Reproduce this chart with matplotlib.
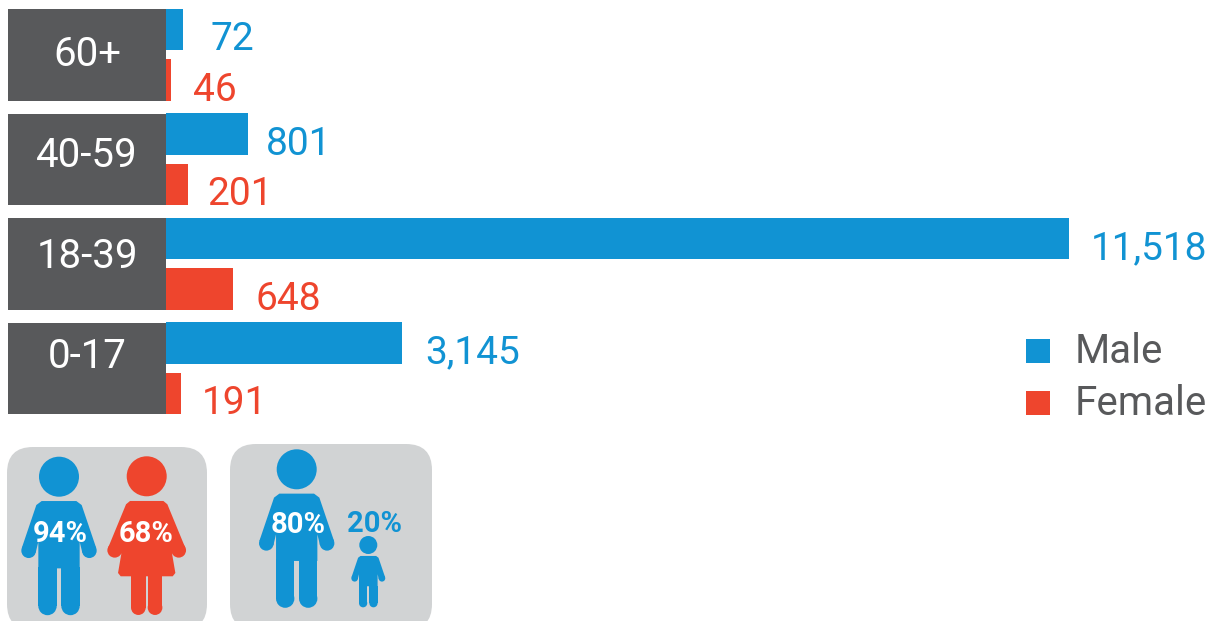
import matplotlib
matplotlib.use("Agg")
import matplotlib.pyplot as plt
from matplotlib.patches import Circle, FancyBboxPatch, Polygon, Rectangle

age_groups = ["60+", "40-59", "18-39", "0-17"]
male_values = [72, 801, 11518, 3145]
female_values = [46, 201, 648, 191]
# the bars in the original are not to scale with their labels, these are the drawn lengths
male_lengths = [17, 81.5, 903, 236]
female_lengths = [5, 22, 67, 15]
legend_labels = ["Male", "Female"]
percent_labels = ["94%", "68%", "80%", "20%"]

BLUE = "#1193d3"
RED = "#ee452d"
DARK = "#58595b"
PANEL = "#d1d3d4"
FONT = ["Roboto", "DejaVu Sans"]

plt.rcParams["font.family"] = FONT

fig = plt.figure(figsize=(12.12, 6.21), dpi=100)

# bars, one row is 104.5 px high
ax = fig.add_axes([0, 1 - 420.75 / 621, 1, 418 / 621])
rows = range(len(age_groups))
ax.barh(rows, [-158] * 4, height=0.88, color=DARK)
ax.barh([r - 0.244 for r in rows], male_lengths, height=0.395, color=BLUE)
ax.barh([r + 0.239 for r in rows], female_lengths, height=0.4, color=RED)
ax.set_xlim(-166, 1046)
ax.set_ylim(3.5, -0.5)
ax.axis("off")

# the age labels sit higher in their box the lower the row
label_shift = [-0.03, -0.07, -0.10, -0.14]
# gap between bar end and value label, px
male_gaps = [27, 18, 22, 23]
female_gaps = [22, 19, 23, 21]
for r, group in enumerate(age_groups):
    ax.text(-79, r + 0.14 + label_shift[r], group, color="white", fontsize=29, ha="center", va="baseline")
    ax.annotate(f"{male_values[r]:,}", (male_lengths[r], r - 0.0465), xytext=(male_gaps[r] * 0.72, 0),
                textcoords="offset points", color=BLUE, fontsize=28, va="baseline")
    ax.annotate(f"{female_values[r]:,}", (female_lengths[r], r + 0.439), xytext=(female_gaps[r] * 0.72, 0),
                textcoords="offset points", color=RED, fontsize=28, va="baseline")

# legend and icons are drawn in pixel coordinates
ov = fig.add_axes([0, 0, 1, 1])
ov.set_xlim(0, 1212)
ov.set_ylim(621, 0)
ov.axis("off")
ov.patch.set_alpha(0)

for y, label, color in zip([339, 391], legend_labels, [BLUE, RED]):
    ov.add_patch(Rectangle((1026, y), 24, 24, color=color, lw=0))
    ov.text(1075, y + 24, label, color=DARK, fontsize=29, va="baseline")


def panel(x0, x1, top):
    r = 26
    ov.add_patch(FancyBboxPatch((x0 + r, top + r), x1 - x0 - 2 * r, 630 - top - 2 * r,
                                boxstyle=f"round,pad={r},rounding_size={r}", color=PANEL, lw=0))


def person(cx, cy, s, color):
    def px(dx, dy):
        return (cx + dx * s / 3, cy + dy * s / 3)
    ov.add_patch(Circle((cx, cy), 60 * s / 3, color=color, lw=0))
    torso = [(-52, 73), (52, 73), (68, 85), (112, 215), (70, 228), (62, 195), (62, 275),
             (-62, 275), (-62, 195), (-70, 228), (-112, 215), (-68, 85)]
    ov.add_patch(Polygon([px(*p) for p in torso], color=color, lw=0))
    for side in (-1, 1):
        ov.add_patch(Circle(px(91 * side, 222), 22 * s / 3, color=color, lw=0))
        ov.add_patch(Circle(px(34.5 * side, 388), 27.5 * s / 3, color=color, lw=0))
        leg = [(7 * side, 270), (62 * side, 270), (62 * side, 388), (7 * side, 388)]
        ov.add_patch(Polygon([px(*p) for p in leg], color=color, lw=0))


def woman(cx, cy, color):
    def px(dx, dy):
        return (cx + dx / 3, cy + dy / 3)
    ov.add_patch(Circle((cx, cy), 20, color=color, lw=0))
    dress = [(-50, 74), (50, 74), (62, 84), (116, 215), (76, 232), (86, 290), (78, 300),
             (-78, 300), (-86, 290), (-76, 232), (-116, 215), (-62, 84)]
    ov.add_patch(Polygon([px(*p) for p in dress], color=color, lw=0))
    for side in (-1, 1):
        ov.add_patch(Circle(px(96 * side, 222), 22 / 3, color=color, lw=0))
        ov.add_patch(Circle(px(25 * side, 394), 22 / 3, color=color, lw=0))
        leg = [(3 * side, 295), (47 * side, 295), (47 * side, 394), (3 * side, 394)]
        ov.add_patch(Polygon([px(*p) for p in leg], color=color, lw=0))


panel(7, 207, 447)
panel(230, 432, 444)
person(59, 476.7, 1, BLUE)
woman(146.7, 476.3, RED)
person(296.7, 469.3, 1, BLUE)
person(368.3, 545, 0.45, BLUE)

text_spots = [(60, 541.7, "white"), (146, 541.7, "white"), (298, 533, "white"), (374, 531.7, BLUE)]
for label, (x, y, color) in zip(percent_labels, text_spots):
    ov.text(x, y, label, color=color, fontsize=21, fontweight="bold", ha="center", va="baseline")

fig.savefig("out.png", dpi=100)
